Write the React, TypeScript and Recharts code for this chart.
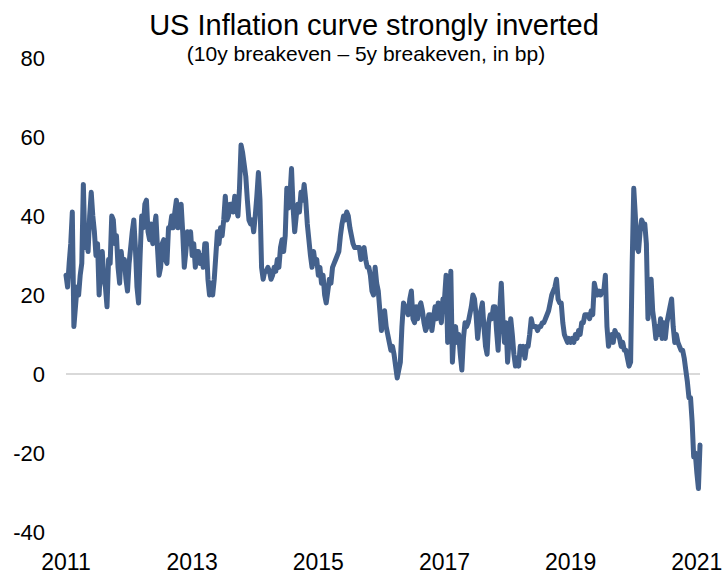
import React from 'react';
import { LineChart, Line, XAxis, YAxis, ReferenceLine } from 'recharts';

// 10y breakeven minus 5y breakeven, bp, sampled every 0.025 year from Jan 2011
const startYear = 2011;
const step = 0.025;
const spread = [
  25, 22, 28, 33, 41, 12, 17, 22, 20, 25, 28, 48, 32, 35, 31, 40, 46, 40, 36, 30,
  33, 20, 28, 31, 24, 22, 17, 29, 28, 40, 39, 33, 35, 27, 23, 31, 27, 29, 24, 21,
  28, 32, 36, 39, 32, 22, 18, 30, 40, 37, 43, 44, 36, 34, 38, 33, 37, 40, 32, 25,
  27, 33, 34, 29, 28, 37, 37, 40, 37, 41, 44, 37, 38, 43, 36, 27, 31, 36, 33, 36,
  30, 33, 27, 31, 31, 28, 30, 27, 33, 33, 24, 20, 23, 20, 24, 30, 36, 33, 37, 35,
  39, 45, 39, 40, 43, 43, 41, 45, 42, 40, 47, 58, 56, 53, 50, 44, 39, 38, 39, 36,
  40, 45, 51, 44, 27, 24, 26, 26, 27, 26, 24, 25, 27, 26, 29, 27, 32, 34, 31, 35,
  47, 42, 45, 52, 42, 36, 40, 43, 41, 46, 44, 48, 44, 38, 34, 30, 27, 31, 28, 29,
  25, 27, 23, 25, 20, 18, 21, 24, 23, 27, 28, 29, 30, 31, 35, 38, 40, 39, 41, 40,
  37, 35, 33, 32, 32, 32, 32, 29, 31, 32, 29, 27, 27, 25, 21, 20, 27, 23, 21, 16,
  11, 14, 16, 12, 10, 8, 6, 7, 5, 2, -1, 1, 3, 12, 18, 17, 16, 15, 19, 21,
  14, 13, 17, 14, 17, 18, 16, 13, 11, 12, 15, 15, 11, 14, 17, 14, 18, 16, 13, 19,
  19, 25, 8, 13, 26, 3, 10, 12, 8, 10, 5, 1, 9, 13, 12, 13, 15, 17, 20, 19,
  15, 9, 13, 16, 18, 12, 7, 5, 13, 15, 14, 17, 17, 11, 6, 16, 23, 14, 8, 13,
  3, 9, 14, 10, 5, 2, 4, 2, 7, 5, 7, 4, 7, 7, 10, 14, 12, 12, 12, 11,
  12, 12, 13, 13, 14, 15, 16, 18, 20, 21, 22, 24, 19, 18, 18, 13, 10, 9, 8, 9,
  8, 9, 8, 10, 9, 11, 10, 13, 13, 15, 15, 15, 14, 16, 15, 23, 21, 20, 21, 20,
  21, 21, 25, 12, 7, 9, 10, 8, 11, 10, 10, 9, 7, 8, 6, 6, 4, 2, 3, 28,
  47, 40, 32, 31, 36, 39, 38, 38, 33, 14, 22, 24, 16, 13, 9, 12, 10, 14, 9, 13,
  9, 13, 15, 17, 19, 12, 8, 10, 8, 7, 6, 6, 4, 1, -2, -6, -6, -12, -21, -20,
  -25, -29, -18,
];
const yearTicks = [2011, 2013, 2015, 2017, 2019, 2021];
const valueTicks = [-40, -20, 0, 20, 40, 60, 80];

const data = spread.map((v, i) => ({ year: startYear + i * step, spread: v }));

const font = 'Arial, "Liberation Sans", Helvetica, sans-serif';

export default function App() {
  return (
    <div style={{ position: 'absolute', left: 0, top: 0, width: 725, height: 574, background: '#fff', fontFamily: font }}>
      <div style={{ position: 'absolute', top: 10.5, left: 11.5, width: 725, textAlign: 'center', fontSize: 29, lineHeight: '29px', color: '#000' }}>
        US Inflation curve strongly inverted
      </div>
      <div style={{ position: 'absolute', top: 43, left: 3.5, width: 725, textAlign: 'center', fontSize: 21, lineHeight: '21px', color: '#000' }}>
        (10y breakeven – 5y breakeven, in bp)
      </div>
      <LineChart width={725} height={574} data={data} margin={{ top: 58, right: 25, bottom: 0, left: 0 }}>
        <XAxis
          dataKey="year"
          type="number"
          domain={[2011, 2021.05]}
          ticks={yearTicks}
          interval={0}
          axisLine={false}
          tickLine={false}
          tickSize={0}
          tickMargin={22}
          height={42}
          tick={{ fill: '#000', fontSize: 23, fontFamily: font }}
        />
        <YAxis
          type="number"
          domain={[-40, 80]}
          ticks={valueTicks}
          interval={0}
          axisLine={false}
          tickLine={false}
          tickSize={0}
          tickMargin={21}
          width={66}
          tick={{ fill: '#000', fontSize: 22, fontFamily: font }}
        />
        <ReferenceLine y={0} stroke="#d9d9d9" strokeWidth={2} />
        <Line
          type="linear"
          dataKey="spread"
          stroke="#44618c"
          strokeWidth={5}
          strokeLinejoin="round"
          strokeLinecap="round"
          dot={false}
          isAnimationActive={false}
        />
      </LineChart>
    </div>
  );
}
